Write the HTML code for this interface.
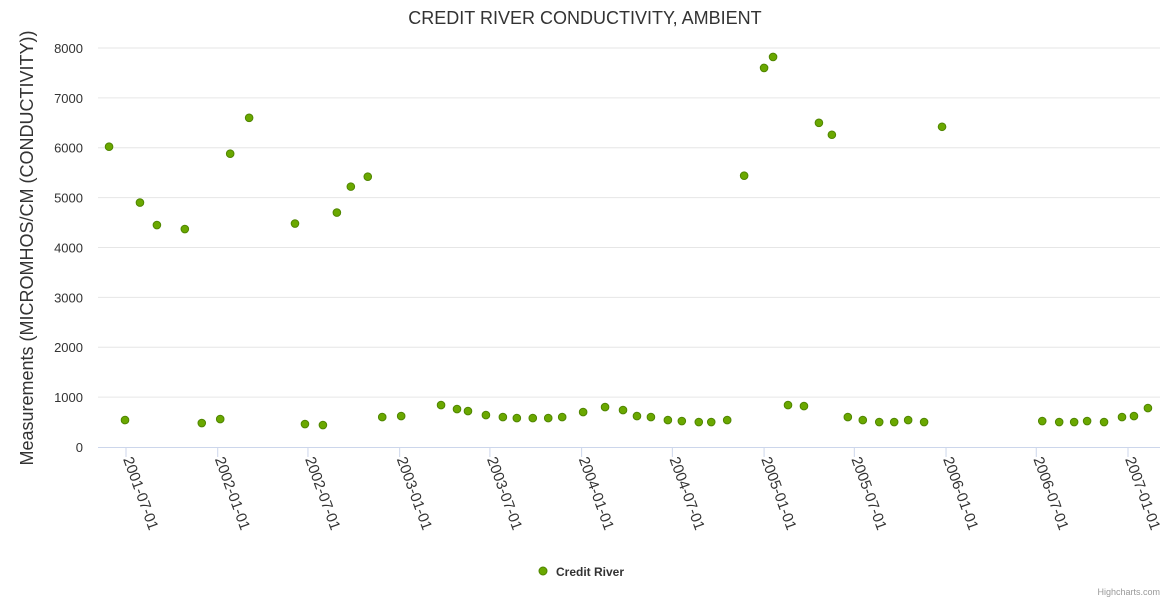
<!DOCTYPE html>
<html><head><meta charset="utf-8"><style>
body{margin:0;background:#fff;font-family:"Liberation Sans",sans-serif}
svg text{font-family:"Liberation Sans",sans-serif}
</style></head><body>
<svg id="chart" width="1170" height="600">
<text x="585" y="24" text-anchor="middle" font-size="18" fill="#333">CREDIT RIVER CONDUCTIVITY, AMBIENT</text>
<text transform="translate(33,248) rotate(-90)" text-anchor="middle" font-size="18" fill="#333">Measurements (MICROMHOS/CM (CONDUCTIVITY))</text>
<g id="grid"></g><g id="xaxis"></g><g id="pts"></g>
<g><circle cx="543" cy="571" r="4" fill="#6aa800" stroke="#4f8500"/><text x="556" y="576" font-size="12" font-weight="bold" fill="#333">Credit River</text></g>
<text x="1160" y="595" text-anchor="end" font-size="9" fill="#999">Highcharts.com</text>
</svg>
<script>
const dates=["2001-05-28","2001-06-29","2001-07-29","2001-09-01","2001-10-27","2001-11-30","2002-01-06","2002-01-26","2002-03-05","2002-06-05","2002-06-25","2002-07-31","2002-08-28","2002-09-25","2002-10-29","2002-11-27","2003-01-04","2003-03-25","2003-04-26","2003-05-18","2003-06-23","2003-07-27","2003-08-24","2003-09-25","2003-10-26","2003-11-23","2004-01-04","2004-02-17","2004-03-24","2004-04-21","2004-05-19","2004-06-22","2004-07-20","2004-08-23","2004-09-17","2004-10-19","2004-11-22","2005-01-01","2005-01-19","2005-02-18","2005-03-22","2005-04-21","2005-05-17","2005-06-18","2005-07-18","2005-08-20","2005-09-19","2005-10-17","2005-11-18","2005-12-24","2006-07-13","2006-08-16","2006-09-15","2006-10-11","2006-11-14","2006-12-20","2007-01-13","2007-02-10"];
const values=[6020,540,4900,4450,4370,480,560,5880,6600,4480,460,440,4700,5220,5420,600,620,840,760,720,640,600,580,580,580,600,700,800,740,620,600,540,520,500,500,540,5440,7600,7820,840,820,6500,6260,600,540,500,500,540,500,6420,520,500,500,520,500,600,620,780];
const yTicks=[0,1000,2000,3000,4000,5000,6000,7000,8000];
const xTicks=["2001-07-01","2002-01-01","2002-07-01","2003-01-01","2003-07-01","2004-01-01","2004-07-01","2005-01-01","2005-07-01","2006-01-01","2006-07-01","2007-01-01"];
const NS="http://www.w3.org/2000/svg";
const t0=Date.UTC(2001,6,1),DAY=86400000;
function d(s){const p=s.split('-');return Date.UTC(+p[0],p[1]-1,+p[2]);}
function X(s){return 126+(d(s)-t0)/DAY*0.4985;}
function Y(v){return 447-v*0.04988;}
function mk(tag,attrs,parent){const e=document.createElementNS(NS,tag);for(const k in attrs)e.setAttribute(k,attrs[k]);parent.appendChild(e);return e;}
const grid=document.getElementById('grid');
yTicks.forEach(v=>{
  if(v>0){const l=mk('line',{x1:98,x2:1160,y1:Y(v),y2:Y(v),stroke:'#e6e6e6'},grid);
  
  }
  const t=mk('text',{x:83,y:Y(v)+5,'text-anchor':'end','font-size':13,fill:'#333'},grid);
  t.textContent=v;
  
  
});
const xa=document.getElementById('xaxis');
const ax=mk('line',{x1:98,x2:1160,y1:447.5,y2:447.5,stroke:'#ccd6eb'},xa);


xTicks.forEach(s=>{
  const x=X(s);
  const tk=mk('line',{x1:x,x2:x,y1:447,y2:457,stroke:'#ccd6eb'},xa);
  
  
  const t=mk('text',{transform:`translate(${x-3},${459}) rotate(70)`,'font-size':15,fill:'#333'},xa);
  t.textContent=s;
  
  
});
const pts=document.getElementById('pts');
dates.forEach((s,i)=>{
  const c=mk('circle',{cx:X(s),cy:Y(values[i]),r:3.8,fill:'#6aa800',stroke:'#4f8500','stroke-width':1},pts);
  
  
});
</script>
</body></html>
